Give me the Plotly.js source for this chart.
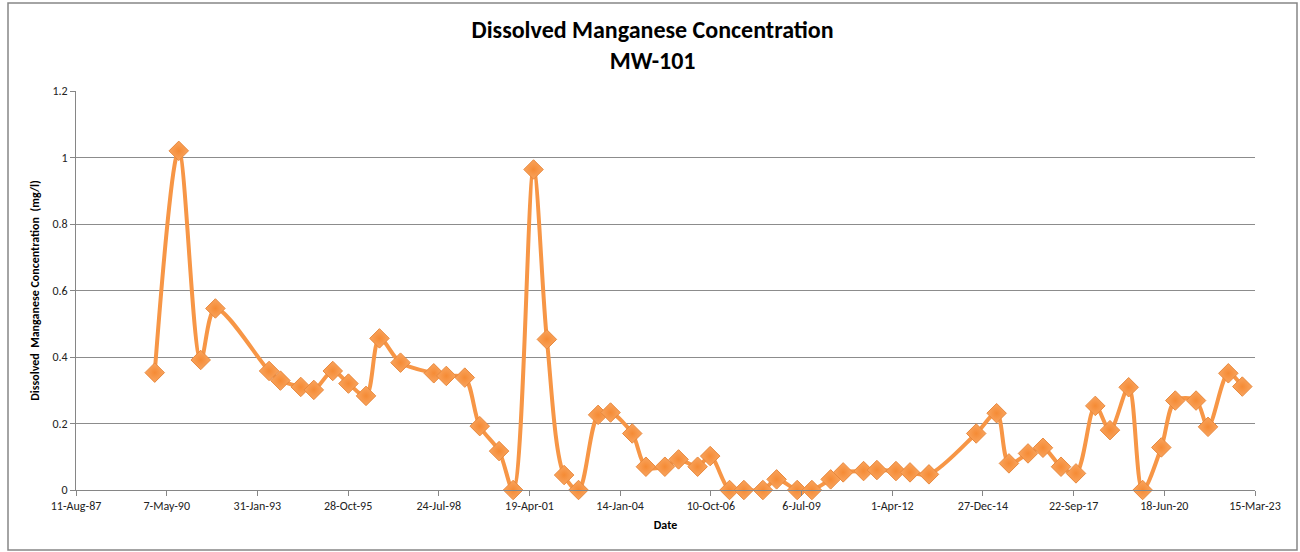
<!DOCTYPE html>
<html>
<head>
<meta charset="utf-8">
<script src="https://cdn.plot.ly/plotly-3.0.1.min.js"></script>
<style>
html,body{margin:0;padding:0;background:#fff;}
#chart{width:1300px;height:552px;}
</style>
</head>
<body>
<div id="chart"></div>
<script>
var sampleDates = [
  "1989-12-26","1990-09-17","1991-05-17","1991-10-26","1993-06-09","1993-10-12",
  "1994-05-24","1994-10-15","1995-05-12","1995-11-01","1996-05-13","1996-10-08",
  "1997-05-28","1998-05-30","1998-10-15","1999-05-07","1999-10-19","2000-05-19",
  "2000-10-21","2001-06-03","2001-10-28","2002-05-06","2002-10-12","2003-05-16",
  "2003-09-30","2004-05-26","2004-10-24","2005-05-21","2005-10-19","2006-05-17",
  "2006-10-03","2007-05-04","2007-10-09","2008-05-06","2008-10-04","2009-05-19",
  "2009-10-28","2010-05-23","2010-10-08","2011-05-21","2011-10-15","2012-05-12",
  "2012-10-14","2013-05-11","2014-10-14","2015-05-27","2015-10-10","2016-05-07",
  "2016-10-19","2017-05-06","2017-10-18","2018-05-19","2018-10-28","2019-05-22",
  "2019-10-23","2020-05-16","2020-10-17","2021-06-03","2021-10-13","2022-05-25",
  "2022-10-26"
];
var manganese = [
  0.353,1.020,0.391,0.546,0.358,0.329,
  0.310,0.301,0.358,0.320,0.283,0.456,
  0.383,0.351,0.343,0.338,0.192,0.117,
  0.000,0.964,0.453,0.045,0.000,0.226,
  0.233,0.170,0.070,0.070,0.092,0.070,
  0.102,0.000,0.000,0.000,0.032,0.000,
  0.000,0.032,0.053,0.057,0.060,0.057,
  0.053,0.047,0.170,0.231,0.080,0.110,
  0.127,0.070,0.050,0.253,0.180,0.309,
  0.000,0.128,0.269,0.269,0.190,0.351,
  0.311
];
var xTickVals = ["1987-08-11","1990-05-07","1993-01-31","1995-10-28","1998-07-24",
  "2001-04-19","2004-01-14","2006-10-10","2009-07-06","2012-04-01","2014-12-27",
  "2017-09-22","2020-06-18","2023-03-15"];
var xTickText = ["11-Aug-87","7-May-90","31-Jan-93","28-Oct-95","24-Jul-98",
  "19-Apr-01","14-Jan-04","10-Oct-06","6-Jul-09","1-Apr-12","27-Dec-14",
  "22-Sep-17","18-Jun-20","15-Mar-23"];
var yTickVals = [0,0.2,0.4,0.6,0.8,1,1.2];
var yTickText = ["0","0.2","0.4","0.6","0.8","1","1.2"];

var fontFam = "Carlito, Calibri, Lato, 'Liberation Sans', Arial, sans-serif";

var trace = {
  x: sampleDates,
  y: manganese,
  type: "scatter",
  mode: "lines+markers",
  line: {color: "#F79646", width: 4, shape: "spline", smoothing: 0.9},
  marker: {symbol: "diamond", size: 15, color: "#F9A45E",
           line: {color: "#E8893E", width: 1},
           gradient: {type: "radial", color: "#F58B35"}},
  cliponaxis: false,
  hoverinfo: "x+y"
};

var layout = {
  width: 1300, height: 552,
  margin: {l: 76, r: 45, t: 91, b: 62},
  paper_bgcolor: "#ffffff",
  plot_bgcolor: "#ffffff",
  showlegend: false,
  title: {
    text: "<b>Dissolved Manganese Concentration</b><br><b>MW-101</b>",
    font: {family: fontFam, size: 24, color: "#000"},
    x: 0.502, xanchor: "center", y: 0.931, yanchor: "top"
  },
  xaxis: {
    type: "date",
    range: ["1987-08-11", "2023-03-15"],
    tickmode: "array", tickvals: xTickVals, ticktext: xTickText,
    ticks: "outside", ticklen: 5, tickcolor: "#868686", tickwidth: 1,
    showline: true, linecolor: "#868686", linewidth: 1,
    showgrid: false, zeroline: false,
    tickfont: {family: fontFam, size: 12, color: "#222"},
    title: {text: "<b>Date</b>", font: {family: fontFam, size: 12, color: "#000"}, standoff: 8}
  },
  yaxis: {
    range: [0, 1.2],
    tickmode: "array", tickvals: yTickVals, ticktext: yTickText,
    ticks: "outside", ticklen: 5, tickcolor: "#868686", tickwidth: 1,
    showline: true, linecolor: "#868686", linewidth: 1,
    showgrid: true, gridcolor: "#8c8c8c", gridwidth: 1,
    zeroline: false,
    tickfont: {family: fontFam, size: 12, color: "#222"},
    title: {text: "<b>Dissolved  Manganese Concentration  (mg/l)</b>",
            font: {family: fontFam, size: 12, color: "#000"}, standoff: 10}
  },
  shapes: [{
    type: "rect", xref: "paper", yref: "paper",
    x0: (8 - 76) / 1179, x1: (1297 - 76) / 1179,
    y0: (490 - 550) / 399, y1: (490 - 3) / 399,
    line: {color: "#868686", width: 1.5}, fillcolor: "rgba(0,0,0,0)", layer: "below"
  }]
};

Plotly.newPlot("chart", [trace], layout, {displayModeBar: false, staticPlot: true});
</script>
</body>
</html>
